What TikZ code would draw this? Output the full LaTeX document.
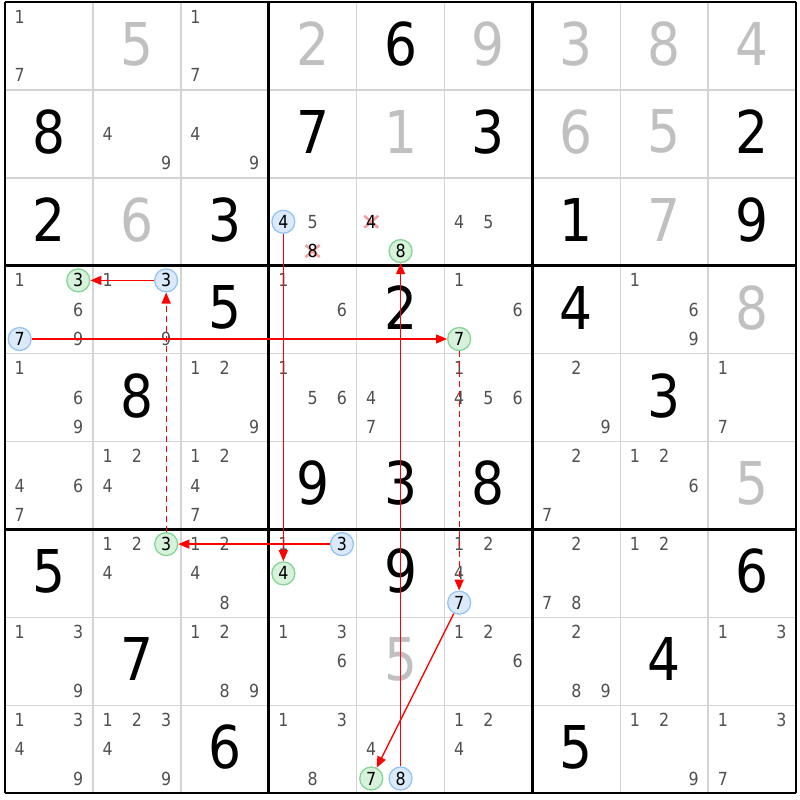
\documentclass[tikz,border=0pt]{standalone}
\usepackage{fontspec}
\setmainfont[FakeStretch=0.88]{DejaVu Sans}
\usetikzlibrary{arrows.meta}

\definecolor{solved}{HTML}{C0C0C0}
\definecolor{pencil}{HTML}{505050}
\definecolor{thingrid}{HTML}{D4D4D4}
\definecolor{onfill}{HTML}{DAEAFA}
\definecolor{ondraw}{HTML}{96C4F0}
\definecolor{offfill}{HTML}{D6F2DA}
\definecolor{offdraw}{HTML}{86D496}
\definecolor{crossx}{HTML}{F4A0A0}

\tikzset{
  pm/.style={inner sep=0pt, text=pencil, font=\fontsize{18}{18}\selectfont},
  big/.style={inner sep=0pt, yshift=2pt, font=\fontsize{59}{59}\selectfont},
  on/.style={circle, draw=ondraw, fill=onfill, line width=1.3pt, minimum size=23pt, inner sep=0pt, font=\fontsize{18}{18}\selectfont},
  off/.style={on, draw=offdraw, fill=offfill},
  link/.style={red, line width=1.3pt, -{Triangle[length=11pt,width=9pt]}},
  weak/.style={link, dash pattern=on 6pt off 4pt},
  xline/.style={crossx, line width=2.6pt}
}

\newcommand{\cands}[3]{%
  \foreach \d in {#3}
    \node[pm] at ({#2-1+mod(\d-1,3)/3+1/6}, {#1-1+div(\d-1,3)/3+1/6}) {\d};}

\begin{document}
\begin{tikzpicture}[x=87.9pt, y=-87.9pt]
  \path[use as bounding box, fill=white] (-0.057,-0.023) rectangle (9.044,9.078);
  \foreach \i in {1,2,4,5,7,8} {
    \draw[thingrid, line width=1.5pt] (\i,0) -- (\i,9);
    \draw[thingrid, line width=1.5pt] (0,\i) -- (9,\i);
  }
  \foreach \r/\c/\d in {1/5/6, 2/1/8, 2/4/7, 2/6/3, 2/9/2, 3/1/2, 3/3/3, 3/7/1, 3/9/9,
      4/3/5, 4/5/2, 4/7/4, 5/2/8, 5/8/3, 6/4/9, 6/5/3, 6/6/8, 7/1/5, 7/5/9, 7/9/6,
      8/2/7, 8/8/4, 9/3/6, 9/7/5}
    \node[big] at (\c-0.5, \r-0.5) {\d};
  \foreach \r/\c/\d in {1/2/5, 1/4/2, 1/6/9, 1/7/3, 1/8/8, 1/9/4, 2/5/1, 2/7/6, 2/8/5,
      3/2/6, 3/8/7, 4/9/8, 6/9/5, 8/5/5}
    \node[big, text=solved] at (\c-0.5, \r-0.5) {\d};
  \cands{1}{1}{1,7} \cands{1}{3}{1,7}
  \cands{2}{2}{4,9} \cands{2}{3}{4,9}
  \cands{3}{4}{5} \cands{3}{6}{4,5}
  \cands{4}{1}{1,6,9} \cands{4}{2}{1,9} \cands{4}{4}{1,6} \cands{4}{6}{1,6} \cands{4}{8}{1,6,9}
  \cands{5}{1}{1,6,9} \cands{5}{3}{1,2,9} \cands{5}{4}{1,5,6} \cands{5}{5}{4,7}
  \cands{5}{6}{1,4,5,6} \cands{5}{7}{2,9} \cands{5}{9}{1,7}
  \cands{6}{1}{4,6,7} \cands{6}{2}{1,2,4} \cands{6}{3}{1,2,4,7} \cands{6}{7}{2,7} \cands{6}{8}{1,2,6}
  \cands{7}{2}{1,2,4} \cands{7}{3}{1,2,4,8} \cands{7}{4}{1} \cands{7}{6}{1,2,4}
  \cands{7}{7}{2,7,8} \cands{7}{8}{1,2}
  \cands{8}{1}{1,3,9} \cands{8}{3}{1,2,8,9} \cands{8}{4}{1,3,6} \cands{8}{6}{1,2,6}
  \cands{8}{7}{2,8,9} \cands{8}{9}{1,3}
  \cands{9}{1}{1,3,4,9} \cands{9}{2}{1,2,3,4,9} \cands{9}{4}{1,3,8} \cands{9}{5}{4}
  \cands{9}{6}{1,2,4} \cands{9}{8}{1,2,9} \cands{9}{9}{1,3,7}
  \coordinate (x8) at (3.5,2.8333);
  \coordinate (x4) at (4.1667,2.5);
  \foreach \n/\d in {x8/8, x4/4} {
    \draw[xline] ([shift={(-7pt,-6pt)}]\n) -- ([shift={(7pt,6pt)}]\n);
    \draw[xline] ([shift={(-7pt,6pt)}]\n) -- ([shift={(7pt,-6pt)}]\n);
    \node[pm, text=black] at (\n) {\d};
  }
  \foreach \i in {0,3,6,9} {
    \draw[line width=2.6pt] (\i,0) -- (\i,9);
    \draw[line width=2.6pt] (0,\i) -- (9,\i);
  }
  \node[on] (b4) at (3.1667,2.5) {4};
  \node[off] (g4) at (3.1667,6.5) {4};
  \node[on] (b8) at (4.5,8.8333) {8};
  \node[off] (g8) at (4.5,2.8333) {8};
  \node[on] (b3a) at (3.8333,6.1667) {3};
  \node[off] (g3a) at (1.8333,6.1667) {3};
  \node[on] (b3b) at (1.8333,3.1667) {3};
  \node[off] (g3b) at (0.8333,3.1667) {3};
  \node[on] (b7a) at (0.1667,3.8333) {7};
  \node[off] (g7a) at (5.1667,3.8333) {7};
  \node[on] (b7b) at (5.1667,6.8333) {7};
  \node[off] (g7b) at (4.1667,8.8333) {7};
  \draw[link] (b4) -- (g4);
  \draw[link] (b8) -- (g8);
  \draw[link] (b3a) -- (g3a);
  \draw[weak] (g3a) -- (b3b);
  \draw[link] (b3b) -- (g3b);
  \draw[link] (b7a) -- (g7a);
  \draw[weak] (g7a) -- (b7b);
  \draw[link] (b7b) -- (g7b);
\end{tikzpicture}
\end{document}
